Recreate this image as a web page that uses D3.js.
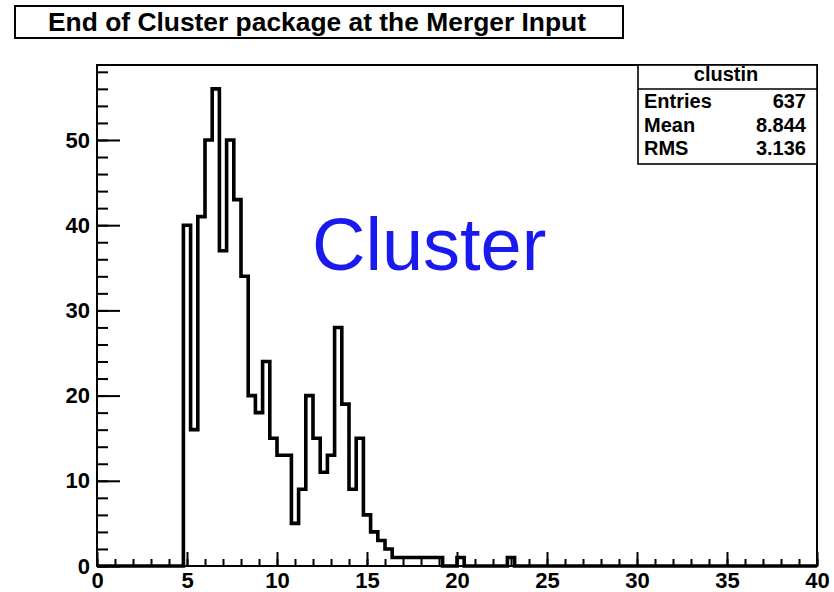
<!DOCTYPE html>
<html>
<head>
<meta charset="utf-8">
<script src="https://cdn.jsdelivr.net/npm/d3@7"></script>
<style>
  body { margin: 0; background: #fff; }
  text { font-family: "Liberation Sans", Arial, sans-serif; }
</style>
</head>
<body>
<svg id="chart" width="834" height="592"></svg>
<script>
// histogram "clustin": 100 bins from 0 to 40, only non-empty bins listed
const histRange = [0, 40];
const binWidth = 0.4;
const binStart = [4.8, 5.2, 5.6, 6.0, 6.4, 6.8, 7.2, 7.6, 8.0, 8.4, 8.8, 9.2, 9.6,
  10.0, 10.4, 10.8, 11.2, 11.6, 12.0, 12.4, 12.8, 13.2, 13.6, 14.0, 14.4, 14.8,
  15.2, 15.6, 16.0, 16.4, 16.8, 17.2, 17.6, 18.0, 18.4, 18.8, 20.0, 22.8];
const binCounts = [40, 16, 41, 50, 56, 37, 50, 43, 34, 20, 18, 24, 15,
  13, 13, 5, 9, 20, 15, 11, 13, 28, 19, 9, 15, 6,
  4, 3, 2, 1, 1, 1, 1, 1, 1, 1, 1, 1];

const xTicks = [0, 5, 10, 15, 20, 25, 30, 35, 40];
const yTicks = [0, 10, 20, 30, 40, 50];
const yMax = 58.8;

const title = 'End of Cluster package at the Merger Input';
const statsName = 'clustin';
const statsLabels = ['Entries', 'Mean', 'RMS'];
const statsValues = ['637', '8.844', '3.136'];
const annotation = 'Cluster';

const svg = d3.select('#chart');

const frameL = 97, frameR = 817, frameT = 65, frameB = 566;

const x = d3.scaleLinear().domain(histRange).range([frameL, frameR]);
const y = d3.scaleLinear().domain([0, yMax]).range([frameB, frameT]);

// full bin table
const nBins = Math.round((histRange[1] - histRange[0]) / binWidth);
const counts = new Array(nBins).fill(0);
binStart.forEach((s, i) => {
  counts[Math.round((s - histRange[0]) / binWidth)] = binCounts[i];
});
const steps = [];
counts.forEach((c, i) => {
  const lo = histRange[0] + i * binWidth;
  steps.push([lo, c], [lo + binWidth, c]);
});

// title box
svg.append('rect')
  .attr('x', 15).attr('y', 6)
  .attr('width', 608).attr('height', 32)
  .attr('fill', '#fff')
  .attr('stroke', '#000')
  .attr('stroke-width', 2);

svg.append('text')
  .attr('x', 317)
  .attr('y', 31)
  .attr('text-anchor', 'middle')
  .attr('font-size', 26)
  .attr('font-weight', 'bold')
  .attr('textLength', 538)
  .attr('lengthAdjust', 'spacingAndGlyphs')
  .text(title);

// frame
svg.append('rect')
  .attr('x', frameL).attr('y', frameT)
  .attr('width', frameR - frameL).attr('height', frameB - frameT)
  .attr('fill', 'none')
  .attr('stroke', '#000')
  .attr('stroke-width', 2);

// axes, ticks point inwards
const xMinor = svg.append('g')
  .attr('transform', `translate(0, ${frameB})`)
  .call(d3.axisBottom(x).tickValues(d3.range(0, 41, 1)).tickSize(-7).tickFormat(''));
const xMajor = svg.append('g')
  .attr('transform', `translate(0, ${frameB})`)
  .call(d3.axisBottom(x).tickValues(xTicks).tickSize(-14).tickPadding(6).tickFormat(d3.format('d')));

const yMinor = svg.append('g')
  .attr('transform', `translate(${frameL}, 0)`)
  .call(d3.axisLeft(y).tickValues(d3.range(0, 59, 2)).tickSize(-11).tickFormat(''));
const yMajor = svg.append('g')
  .attr('transform', `translate(${frameL}, 0)`)
  .call(d3.axisLeft(y).tickValues(yTicks).tickSize(-23).tickPadding(7).tickFormat(d3.format('d')));

[xMinor, xMajor, yMinor, yMajor].forEach(g => {
  g.select('.domain').remove();
  g.selectAll('line').attr('stroke', '#000').attr('stroke-width', 2);
  g.selectAll('text')
    .attr('fill', '#000')
    .attr('font-size', 22)
    .attr('font-weight', 'bold')
    .attr('font-family', '"Liberation Sans", Arial, sans-serif');
});

// histogram outline
const line = d3.line()
  .x(d => x(d[0]))
  .y(d => y(d[1]));

svg.append('path')
  .datum(steps)
  .attr('d', line)
  .attr('fill', 'none')
  .attr('stroke', '#000')
  .attr('stroke-width', 3.6)
  .attr('stroke-linejoin', 'miter');

// stats box
svg.append('rect')
  .attr('x', 638).attr('y', frameT)
  .attr('width', frameR - 638).attr('height', 99)
  .attr('fill', '#fff')
  .attr('stroke', '#000')
  .attr('stroke-width', 1.6);

svg.append('line')
  .attr('x1', 638).attr('x2', frameR)
  .attr('y1', 89).attr('y2', 89)
  .attr('stroke', '#000')
  .attr('stroke-width', 1.6);

svg.append('text')
  .attr('x', 726)
  .attr('y', 81)
  .attr('text-anchor', 'middle')
  .attr('font-size', 20)
  .attr('font-weight', 'bold')
  .text(statsName);

statsLabels.forEach((lab, i) => {
  svg.append('text')
    .attr('x', 644)
    .attr('y', 108 + i * 23.5)
    .attr('font-size', 20)
    .attr('font-weight', 'bold')
    .text(lab);
  svg.append('text')
    .attr('x', 806)
    .attr('y', 108 + i * 23.5)
    .attr('text-anchor', 'end')
    .attr('font-size', 20)
    .attr('font-weight', 'bold')
    .text(statsValues[i]);
});

// annotation
svg.append('text')
  .attr('x', 312)
  .attr('y', 270)
  .attr('font-size', 74)
  .attr('fill', '#1a1aee')
  .text(annotation);
</script>
</body>
</html>
